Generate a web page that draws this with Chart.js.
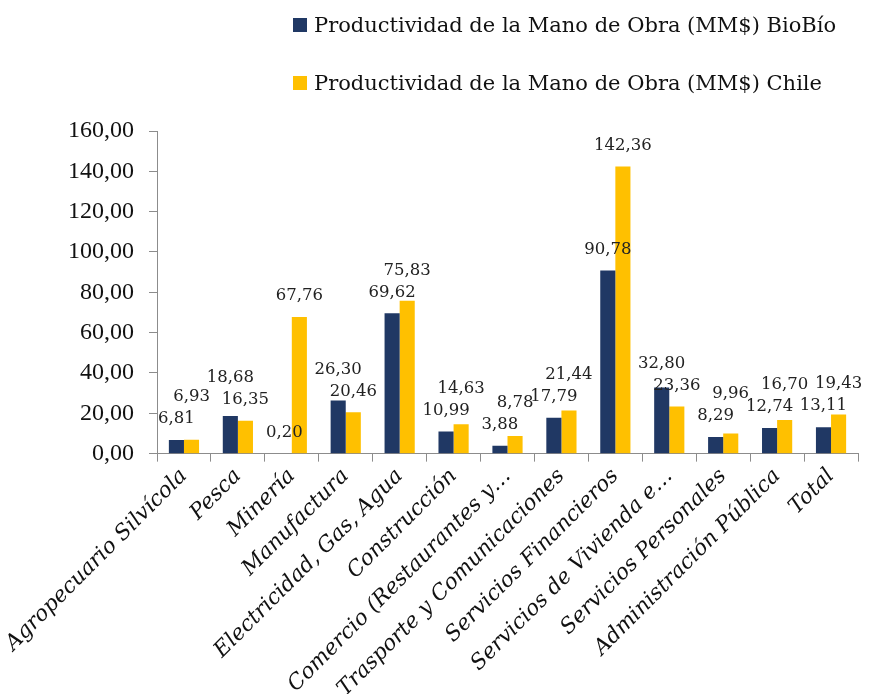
<!DOCTYPE html>
<html>
<head>
<meta charset="utf-8">
<script src="https://cdn.jsdelivr.net/npm/chart.js@4.4.1/dist/chart.umd.min.js"></script>
<style>
    html, body { margin: 0; padding: 0; background: #fff; overflow: hidden; }
    #wrap { position: relative; width: 872px; height: 694px; overflow: hidden; }
    #legend { position: absolute; left: 293px; top: 0; font-family: "DejaVu Serif", serif; font-size: 21px; color: #111; }
    .item { position: absolute; left: 0; white-space: nowrap; display: flex; align-items: center; }
    .box { width: 14px; height: 14px; margin-right: 7px; }
</style>
</head>
<body>
<div id="wrap">
    <canvas id="chart" width="872" height="704"></canvas>
    <div id="legend"></div>
</div>
<script>
const categories = [
    'Agropecuario Silvícola', 'Pesca', 'Minería', 'Manufactura', 'Electricidad, Gas, Agua',
    'Construcción', 'Comercio (Restaurantes y…', 'Trasporte y Comunicaciones', 'Servicios Financieros',
    'Servicios de Vivienda e…', 'Servicios Personales', 'Administración Pública', 'Total'
];
const seriesNames = [
    'Productividad de la Mano de Obra (MM$) BioBío',
    'Productividad de la Mano de Obra (MM$) Chile'
];
const biobio = [6.81, 18.68, 0.20, 26.30, 69.62, 10.99, 3.88, 17.79, 90.78, 32.80, 8.29, 12.74, 13.11];
const chile = [6.93, 16.35, 67.76, 20.46, 75.83, 14.63, 8.78, 21.44, 142.36, 23.36, 9.96, 16.70, 19.43];
const yMin = 0;
const yMax = 160;
const yStep = 20;

const colors = ['#203864', '#FFC000'];

function fmt(v) {
    return v.toFixed(2).replace('.', ',');
}

// value labels above the bars, the taller one lifted when they would collide
const valueLabels = {
    id: 'valueLabels',
    afterDatasetsDraw(chart) {
        const ctx = chart.ctx;
        const m0 = chart.getDatasetMeta(0);
        const m1 = chart.getDatasetMeta(1);
        ctx.save();
        ctx.font = '16.5px "DejaVu Serif"';
        ctx.fillStyle = '#222';
        ctx.textAlign = 'center';
        ctx.textBaseline = 'middle';
        m0.data.forEach((bar0, i) => {
            const bar1 = m1.data[i];
            const v0 = biobio[i], v1 = chile[i];
            let y0 = bar0.y - 21;
            let y1 = bar1.y - 21;
            if (v0 <= v1) y1 = Math.min(y1, y0 - 22);
            else y0 = Math.min(y0, y1 - 22);
            ctx.fillText(fmt(v0), bar0.x, y0);
            ctx.fillText(fmt(v1), bar1.x, y1);
        });
        ctx.restore();
    }
};

const ctx = document.getElementById('chart').getContext('2d');
const chart = new Chart(ctx, {
    type: 'bar',
    data: {
        labels: categories,
        datasets: [
            { label: seriesNames[0], data: biobio, backgroundColor: colors[0] },
            { label: seriesNames[1], data: chile, backgroundColor: colors[1] }
        ]
    },
    options: {
        responsive: false,
        animation: false,
        devicePixelRatio: 1,
        layout: { padding: { top: 131, left: 53, right: 14, bottom: 0 } },
        datasets: {
            bar: { categoryPercentage: 0.56, barPercentage: 1.0 }
        },
        plugins: {
            legend: { display: false },
            tooltip: { enabled: false }
        },
        scales: {
            x: {
                grid: { drawOnChartArea: false, offset: true, color: '#8c8c8c', tickLength: 8 },
                border: { color: '#8c8c8c' },
                ticks: {
                    minRotation: 45,
                    maxRotation: 45,
                    padding: 2,
                    color: '#111',
                    font: { family: '"DejaVu Serif"', style: 'italic', size: 21.5 }
                },
                afterFit: (scale) => { scale.paddingLeft = 0; }
            },
            y: {
                min: yMin,
                max: yMax,
                grid: { drawOnChartArea: false, color: '#8c8c8c', tickLength: 8 },
                border: { color: '#8c8c8c' },
                ticks: {
                    stepSize: yStep,
                    padding: 15,
                    color: '#111',
                    font: { family: '"Liberation Serif"', size: 24 },
                    callback: (v) => fmt(v)
                }
            }
        }
    },
    plugins: [valueLabels]
});

// legend built from the chart datasets
const legend = document.getElementById('legend');
chart.data.datasets.forEach((ds, i) => {
    const item = document.createElement('div');
    item.className = 'item';
    item.style.top = (13 + i * 58) + 'px';
    const box = document.createElement('span');
    box.className = 'box';
    box.style.background = ds.backgroundColor;
    const text = document.createElement('span');
    text.textContent = ds.label;
    item.appendChild(box);
    item.appendChild(text);
    legend.appendChild(item);
});
</script>
</body>
</html>
